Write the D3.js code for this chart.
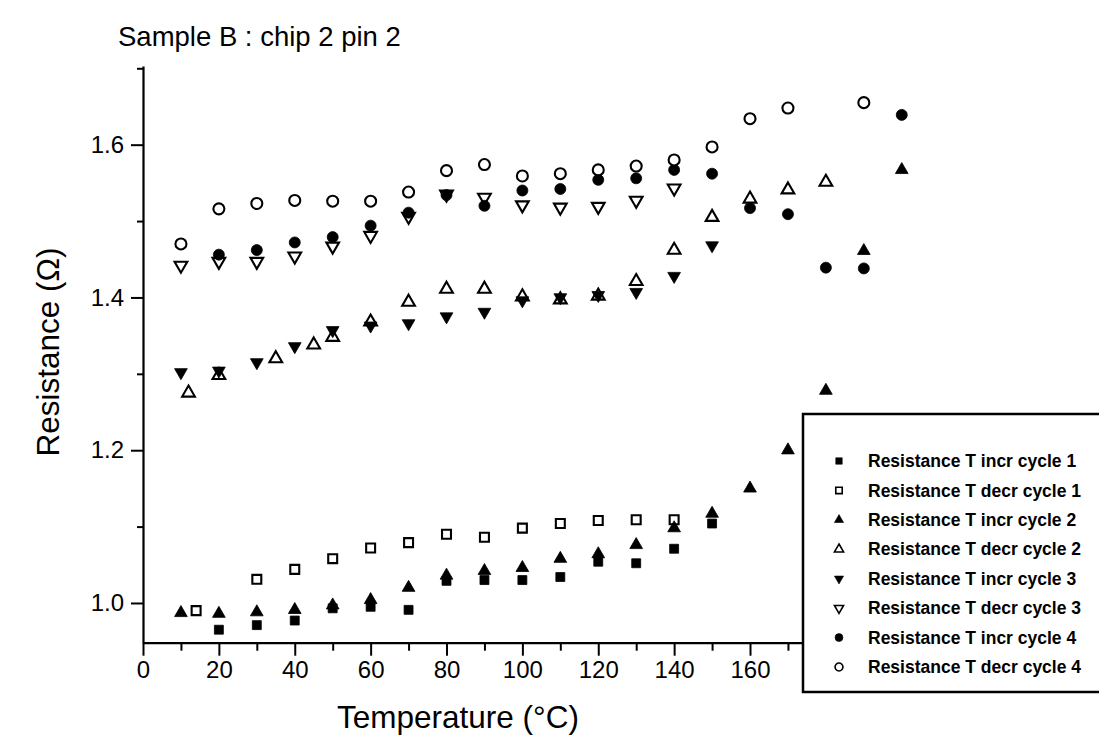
<!DOCTYPE html>
<html>
<head>
<meta charset="utf-8">
<script src="https://cdn.jsdelivr.net/npm/d3@7"></script>
<style>
  body { margin: 0; background: #fff; }
  svg { display: block; }
  text { font-family: "Liberation Sans", Arial, sans-serif; fill: #000; }
</style>
</head>
<body>
<svg id="chart" width="1099" height="748"></svg>
<script>
// Temperatures (°C) and resistances (Ω) for each heating / cooling run
const tIncr1 = [20, 30, 40, 50, 60, 70, 80, 90, 100, 110, 120, 130, 140, 150];
const rIncr1 = [0.965, 0.971, 0.977, 0.993, 0.995, 0.991, 1.029, 1.030, 1.030, 1.034, 1.054, 1.052, 1.071, 1.104];

const tDecr1 = [14, 30, 40, 50, 60, 70, 80, 90, 100, 110, 120, 130, 140];
const rDecr1 = [0.990, 1.031, 1.044, 1.058, 1.072, 1.079, 1.090, 1.086, 1.098, 1.104, 1.108, 1.109, 1.109];

const tIncr2 = [10, 20, 30, 40, 50, 60, 70, 80, 90, 100, 110, 120, 130, 140, 150, 160, 170, 180, 190, 200];
const rIncr2 = [0.987, 0.986, 0.988, 0.991, 0.997, 1.004, 1.020, 1.036, 1.042, 1.046, 1.058, 1.064, 1.076, 1.098, 1.117, 1.150, 1.200, 1.278, 1.461, 1.567];

const tDecr2 = [12, 20, 35, 45, 50, 60, 70, 80, 90, 100, 110, 120, 130, 140, 150, 160, 170, 180];
const rDecr2 = [1.275, 1.298, 1.320, 1.338, 1.348, 1.368, 1.394, 1.411, 1.411, 1.401, 1.397, 1.402, 1.421, 1.462, 1.505, 1.529, 1.541, 1.551];

const tIncr3 = [10, 20, 30, 40, 50, 60, 70, 80, 90, 100, 110, 120, 130, 140, 150];
const rIncr3 = [1.302, 1.304, 1.315, 1.336, 1.357, 1.363, 1.366, 1.375, 1.381, 1.396, 1.400, 1.403, 1.407, 1.428, 1.468];

const tDecr3 = [10, 20, 30, 40, 50, 60, 70, 80, 90, 100, 110, 120, 130, 140];
const rDecr3 = [1.442, 1.447, 1.447, 1.454, 1.467, 1.481, 1.506, 1.535, 1.531, 1.521, 1.518, 1.519, 1.527, 1.543];

const tIncr4 = [20, 30, 40, 50, 60, 70, 80, 90, 100, 110, 120, 130, 140, 150, 160, 170, 180, 190, 200];
const rIncr4 = [1.456, 1.462, 1.472, 1.479, 1.494, 1.511, 1.534, 1.520, 1.540, 1.542, 1.554, 1.556, 1.567, 1.562, 1.517, 1.509, 1.439, 1.438, 1.639];

const tDecr4 = [10, 20, 30, 40, 50, 60, 70, 80, 90, 100, 110, 120, 130, 140, 150, 160, 170, 190];
const rDecr4 = [1.470, 1.516, 1.523, 1.527, 1.526, 1.526, 1.538, 1.566, 1.574, 1.559, 1.562, 1.567, 1.572, 1.580, 1.597, 1.634, 1.648, 1.655];

const seriesNames = [
  "Resistance T incr cycle 1", "Resistance T decr cycle 1",
  "Resistance T incr cycle 2", "Resistance T decr cycle 2",
  "Resistance T incr cycle 3", "Resistance T decr cycle 3",
  "Resistance T incr cycle 4", "Resistance T decr cycle 4"
];
// the legend box sits over the right end of the temperature axis
const xMajorTicks = [0, 20, 40, 60, 80, 100, 120, 140, 160];
const xMinorTicks = [10, 30, 50, 70, 90, 110, 130, 150, 170];
const yMajorTicks = [1.0, 1.2, 1.4, 1.6];
const yMinorTicks = [1.1, 1.3, 1.5, 1.7];

// marker kind per series: shape + filled/open
const markerShapes = ["square", "square", "up", "up", "down", "down", "circle", "circle"];
const markerFilled = [true, false, true, false, true, false, true, false];

const seriesT = [tIncr1, tDecr1, tIncr2, tDecr2, tIncr3, tDecr3, tIncr4, tDecr4];
const seriesR = [rIncr1, rDecr1, rIncr2, rDecr2, rIncr3, rDecr3, rIncr4, rDecr4];
const series = seriesNames.map((name, i) => ({
  name, shape: markerShapes[i], filled: markerFilled[i],
  points: seriesT[i].map((t, j) => ({ t, r: seriesR[i][j] }))
}));

const svg = d3.select("#chart");

const x = d3.scaleLinear().domain([0, 210]).range([143, 939.7]);
const y = d3.scaleLinear().domain([0.948, 1.703]).range([642.7, 66]);

function symbolPath(shape, scale) {
  const s = scale || 1;
  if (shape === "square") return d3.symbol(d3.symbolSquare, 80 * s * s)();
  if (shape === "circle") return d3.symbol(d3.symbolCircle, 95 * s * s)();
  return d3.symbol(d3.symbolTriangle, 70 * s * s)();
}

// axes
const axisStyle = g => {
  g.selectAll(".domain").attr("stroke", "#000").attr("stroke-width", 2.2);
  g.selectAll(".tick line").attr("stroke", "#000").attr("stroke-width", 2);
  g.selectAll(".tick text").style("font-size", "24px").attr("fill", "#000")
    .style("font-family", '"Liberation Sans", Arial, sans-serif');
};

svg.append("g")
  .attr("transform", `translate(0,${y.range()[0]})`)
  .call(d3.axisBottom(x).tickValues(xMinorTicks).tickSize(8).tickSizeOuter(0).tickFormat(""))
  .call(g => g.select(".domain").remove())
  .call(axisStyle);

svg.append("g")
  .attr("transform", `translate(0,${y.range()[0]})`)
  .call(d3.axisBottom(x).tickValues(xMajorTicks).tickSize(13).tickSizeOuter(0)
    .tickPadding(5).tickFormat(d3.format("d")))
  .call(axisStyle);

svg.append("g")
  .attr("transform", `translate(${x.range()[0]},0)`)
  .call(d3.axisLeft(y).tickValues(yMinorTicks).tickSize(6).tickSizeOuter(0).tickFormat(""))
  .call(g => g.select(".domain").remove())
  .call(axisStyle);

svg.append("g")
  .attr("transform", `translate(${x.range()[0]},0)`)
  .call(d3.axisLeft(y).tickValues(yMajorTicks).tickSize(12).tickSizeOuter(0)
    .tickPadding(7).tickFormat(d3.format(".1f")))
  .call(axisStyle);

// data markers
const markerLayer = svg.append("g");
series.forEach(s => {
  markerLayer.append("g").selectAll("path")
    .data(s.points)
    .join("path")
    .attr("d", symbolPath(s.shape))
    .attr("transform", d => `translate(${x(d.t)},${y(d.r)})${s.shape === "down" ? " rotate(180)" : ""}`)
    .attr("fill", s.filled ? "#000" : "#fff")
    .attr("stroke", "#000")
    .attr("stroke-width", s.filled ? 0.8 : 2.1);
});

// titles
svg.append("text")
  .attr("x", 118).attr("y", 46)
  .style("font-size", "27.5px")
  .text("Sample B : chip 2 pin 2");

svg.append("text")
  .attr("transform", "translate(59,352) rotate(-90)")
  .attr("text-anchor", "middle")
  .style("font-size", "31.5px")
  .text("Resistance (Ω)");

svg.append("text")
  .attr("x", 458).attr("y", 728)
  .attr("text-anchor", "middle")
  .style("font-size", "31.5px")
  .text("Temperature (°C)");

// legend
const legend = svg.append("g").attr("transform", "translate(803,414)");
legend.append("rect")
  .attr("x", 0).attr("y", 0).attr("width", 330).attr("height", 278)
  .attr("fill", "#fff").attr("stroke", "#000").attr("stroke-width", 2.5);

const rowY = d3.scalePoint().domain(seriesNames).range([47, 253]);
const rows = legend.selectAll("g.row").data(series).join("g")
  .attr("class", "row")
  .attr("transform", d => `translate(0,${rowY(d.name)})`);
rows.append("path")
  .attr("d", d => symbolPath(d.shape, 0.72))
  .attr("transform", d => `translate(36,0)${d.shape === "down" ? " rotate(180)" : ""}`)
  .attr("fill", d => d.filled ? "#000" : "#fff")
  .attr("stroke", "#000")
  .attr("stroke-width", d => d.filled ? 0.6 : 1.6);
rows.append("text")
  .attr("x", 65).attr("y", 0).attr("dy", "0.35em")
  .style("font-size", "17.5px")
  .style("font-weight", "bold")
  .text(d => d.name);
</script>
</body>
</html>
